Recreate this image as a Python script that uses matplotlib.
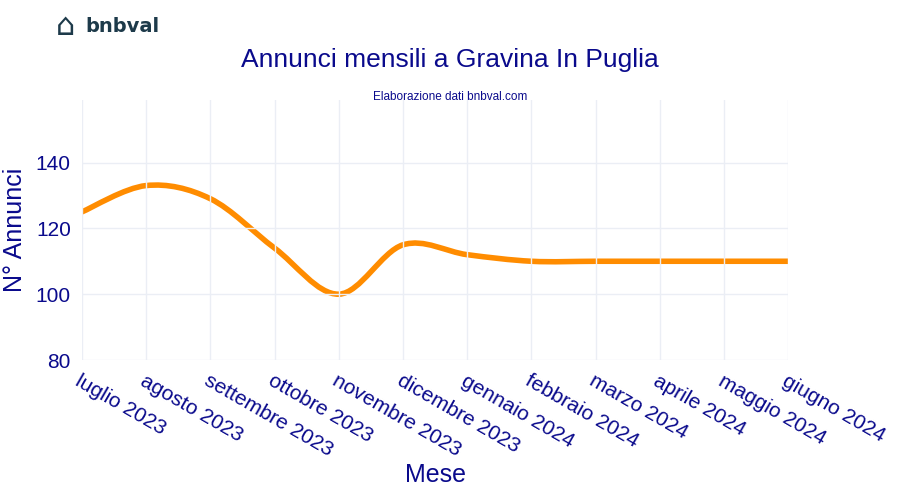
import numpy as np
import matplotlib.pyplot as plt
from matplotlib.path import Path
from matplotlib.patches import PathPatch

plt.rcParams['font.family'] = ['Liberation Sans', 'DejaVu Sans']

mesi = ["luglio 2023", "agosto 2023", "settembre 2023", "ottobre 2023", "novembre 2023",
        "dicembre 2023", "gennaio 2024", "febbraio 2024", "marzo 2024", "aprile 2024",
        "maggio 2024", "giugno 2024"]
annunci = [125, 133, 129, 114, 100, 115, 112, 110, 110, 110, 110, 110]

NAVY = "#0a0a8c"
fig = plt.figure(figsize=(9, 5), dpi=100)
ax = fig.add_axes([0.091, 0.28, 0.785, 0.52])

# smooth spline-like line (cardinal curve through the data points)
x = np.arange(len(annunci))
y = np.array(annunci, dtype=float)
t = 0.5 / 3
verts = [(x[0], y[0])]
codes = [Path.MOVETO]
for i in range(len(x) - 1):
    p0 = (x[max(i - 1, 0)], y[max(i - 1, 0)])
    p1 = (x[i], y[i])
    p2 = (x[i + 1], y[i + 1])
    p3 = (x[min(i + 2, len(x) - 1)], y[min(i + 2, len(x) - 1)])
    c1 = (p1[0] + t * (p2[0] - p0[0]), p1[1] + t * (p2[1] - p0[1]))
    c2 = (p2[0] - t * (p3[0] - p1[0]), p2[1] - t * (p3[1] - p1[1]))
    verts += [c1, c2, p2]
    codes += [Path.CURVE4] * 3
ax.add_patch(PathPatch(Path(verts, codes), fill=False, edgecolor="#ff8c00", lw=4,
                       capstyle="round", joinstyle="round"))

ax.set_xlim(0, len(mesi) - 1)
ax.set_ylim(80, 159)
ax.set_yticks([80, 100, 120, 140])
ax.set_xticks(x)
ax.set_xticklabels(mesi, rotation=-30, ha="left", rotation_mode="anchor")
ax.tick_params(colors=NAVY, labelsize=15, length=0, pad=8)
ax.grid(color="#ebeef5", lw=1)
for s in ax.spines.values():
    s.set_visible(False)
ax.set_xlabel("Mese", color=NAVY, fontsize=18, labelpad=2)
ax.set_ylabel("N° Annunci", color=NAVY, fontsize=18, labelpad=6)

fig.text(0.5, 0.865, "Annunci mensili a Gravina In Puglia", ha="center", color=NAVY, fontsize=19)
fig.text(0.5, 0.80, "Elaborazione dati bnbval.com", ha="center", color=NAVY, fontsize=8.5)
fig.text(0.095, 0.935, "bnbval", color="#1d3a4a", fontsize=14, fontweight="bold",
         family=["DejaVu Sans"])
fig.text(0.062, 0.93, "⌂", color="#1d3a4a", fontsize=22, family=["DejaVu Sans"])

fig.savefig("out.png")
